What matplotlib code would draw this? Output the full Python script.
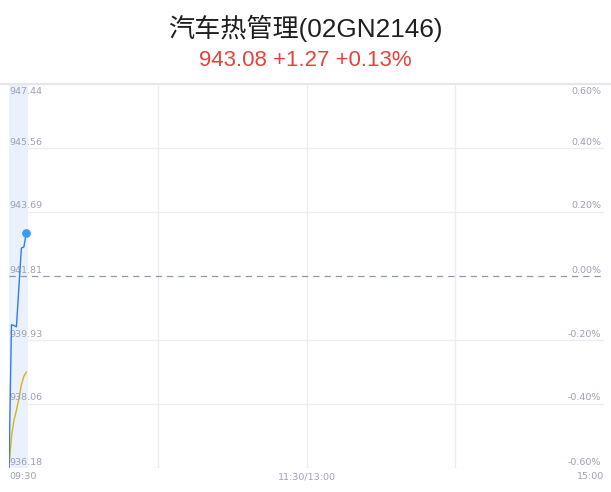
import matplotlib
matplotlib.use('Agg')
from matplotlib import pyplot as plt

plt.rcParams['font.family'] = ['DejaVu Sans', 'Noto Sans CJK SC']

title = '汽车热管理(02GN2146)'
subtitle = '943.08 +1.27 +0.13%'

# minute index since 09:30
minutes = [0, 1, 2, 3, 4, 5, 6, 7]
price = [936.20, 940.38, 940.36, 940.32, 941.50, 942.63, 942.66, 943.08]
avg_price = [936.20, 937.10, 937.58, 937.87, 938.22, 938.62, 938.87, 938.99]

prev_close = 941.81
y_ticks = [936.18, 938.06, 939.93, 941.81, 943.69, 945.56, 947.44]
pct_labels = ['-0.60%', '-0.40%', '-0.20%', '0.00%', '0.20%', '0.40%', '0.60%']
x_ticks = [0, 120, 240]
x_labels = ['09:30', '11:30/13:00', '15:00']

grid_c = '#ececf1'
tick_c = '#9ba1b5'
head_font = ['Liberation Sans', 'Noto Sans CJK SC']

fig = plt.figure(figsize=(6.11, 4.92), dpi=100)
W, H = 611, 492
left, right, top, bottom = 9, 604, 84, 468
ax = fig.add_axes([left / W, 1 - bottom / H, (right - left) / W, (bottom - top) / H])

ax.set_xlim(0, 240)
ax.set_ylim(y_ticks[0], y_ticks[-1])

for s in ax.spines.values():
    s.set_visible(False)
ax.set_xticks([])
ax.set_yticks([])

# grid
for v in y_ticks[1:-1]:
    if v == prev_close:
        ax.axhline(v, color='#8f98ac', lw=0.9, ls=(0, (5, 4)), zorder=1)
    else:
        ax.axhline(v, color=grid_c, lw=0.9, zorder=0)
ax.axhline(y_ticks[0], color=grid_c, lw=0.9, zorder=0)
for v in [60, 120, 180]:
    ax.axvline(v, color=grid_c, lw=0.9, zorder=0)
ax.axvline(0, color=grid_c, lw=0.9, zorder=0)
fig.add_artist(plt.Line2D([0, 1], [1 - 83.5 / H, 1 - 83.5 / H], color='#e6e6ec', lw=1.6))

# highlight
ax.axvspan(minutes[0], minutes[-1] + 0.6, color='#eaf1fc', zorder=0.5, lw=0)

ax.plot(minutes, avg_price, color='#d6b21a', lw=1, zorder=3)
ax.plot(minutes, price, color='#2f7cf0', lw=1, zorder=4)
ax.scatter([minutes[-1]], [price[-1]], s=28, color='#3a9bff', zorder=5)

# y labels
for i, (v, p) in enumerate(zip(y_ticks, pct_labels)):
    va = 'top' if i == len(y_ticks) - 1 else 'bottom'
    off = -2 if va == 'top' else 1
    ax.annotate('%.2f' % v, (0, v), xytext=(0, off), textcoords='offset points',
                ha='left', va=va, fontsize=6.8, color=tick_c)
    ax.annotate(p, (240, v), xytext=(-2, off), textcoords='offset points',
                ha='right', va=va, fontsize=6.8, color=tick_c)

for xv, lab in zip(x_ticks, x_labels):
    ha = 'left' if xv == 0 else ('right' if xv == 240 else 'center')
    ax.annotate(lab, (xv, y_ticks[0]), xytext=(0, -3), textcoords='offset points',
                ha=ha, va='top', fontsize=6.8, color=tick_c)

fig.text(0.5, 1 - 28 / H, title, ha='center', va='center', fontsize=18.8,
         color='#1f1f1f', family=head_font, weight='medium')
fig.text(0.5, 1 - 61 / H, subtitle, ha='center', va='center', fontsize=16,
         color='#e8423d', family=head_font)

plt.savefig('out.png', dpi=100)
